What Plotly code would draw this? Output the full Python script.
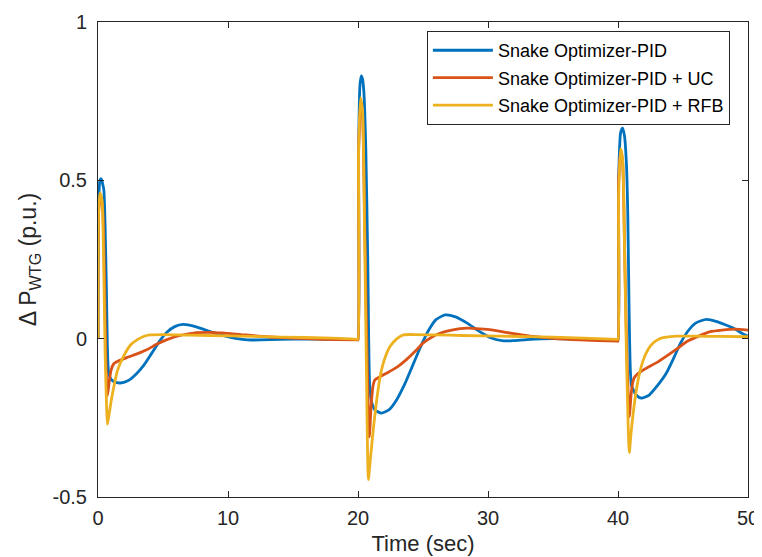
import plotly.graph_objects as go

# ---- data ----
t_pid = [0, 0.05, 0.15, 0.25, 0.35, 0.45, 0.55, 0.65, 0.72, 0.8, 0.95, 1.2, 1.7, 2.3, 2.9, 3.5, 4.1, 4.7, 5.3, 5.9, 6.55, 7.5, 8.8, 9.8, 10.7, 11.5, 12.5, 14, 16, 18, 19.95,
         20.0, 20.05, 20.15, 20.25, 20.35, 20.45, 20.6, 20.75, 20.9, 21.05, 21.3, 21.8, 22.4, 23.0, 23.6, 24.2, 24.8, 25.4, 26.0, 26.7, 27.5, 28.4, 29.3, 30.2, 31.2, 32.0, 33.0, 35, 37, 39.95,
         40.0, 40.05, 40.2, 40.35, 40.5, 40.65, 40.75, 40.85, 40.95, 41.05, 41.4, 41.8, 42.4, 43.0, 43.7, 44.3, 44.8, 45.4, 46.0, 46.8, 47.6, 48.3, 48.9, 49.5, 50]
y_pid = [0, 0.42, 0.5, 0.505, 0.49, 0.47, 0.35, 0.15, -0.02, -0.1, -0.125, -0.135, -0.14, -0.133, -0.113, -0.085, -0.048, -0.01, 0.02, 0.038, 0.045, 0.038, 0.02, 0.008, 0.0, -0.004, -0.004, -0.002, -0.001, -0.002, -0.003,
         -0.003, 0.6, 0.8, 0.83, 0.82, 0.78, 0.6, 0.25, -0.15, -0.2, -0.225, -0.235, -0.224, -0.191, -0.143, -0.085, -0.027, 0.024, 0.06, 0.075, 0.069, 0.049, 0.024, 0.003, -0.007, -0.006, -0.003, 0.0, -0.002, -0.005,
         -0.005, 0.5, 0.65, 0.665, 0.64, 0.55, 0.4, 0.1, -0.1, -0.15, -0.178, -0.188, -0.178, -0.15, -0.11, -0.06, -0.015, 0.025, 0.05, 0.061, 0.054, 0.043, 0.033, 0.018, 0.007]

t_uc = [0, 0.05, 0.2, 0.35, 0.5, 0.6, 0.72, 0.85, 1.0, 1.2, 1.6, 2.2, 3.0, 3.75, 4.5, 5.3, 6.3, 7.6, 8.6, 9.6, 11, 13, 15, 17, 19.95,
        20.0, 20.05, 20.2, 20.35, 20.5, 20.65, 20.87, 21.0, 21.15, 21.3, 21.7, 22.2, 23.0, 23.7, 24.4, 25.0, 25.6, 26.3, 27.3, 28.4, 29.4, 30.4, 31.5, 32.5, 33.5, 35, 37, 39.95,
        40.0, 40.05, 40.2, 40.35, 40.5, 40.65, 40.87, 41.0, 41.15, 41.3, 41.7, 42.2, 43.0, 43.7, 44.5, 45.3, 46.2, 47.1, 48.0, 49.0, 50]
y_uc = [0, 0.4, 0.45, 0.42, 0.2, -0.05, -0.18, -0.14, -0.1, -0.08, -0.07, -0.06, -0.048, -0.035, -0.018, -0.003, 0.01, 0.019, 0.02, 0.018, 0.013, 0.006, 0.002, -0.002, -0.004,
        -0.004, 0.6, 0.74, 0.7, 0.4, 0.05, -0.31, -0.22, -0.15, -0.13, -0.12, -0.109, -0.09, -0.067, -0.04, -0.014, 0.003, 0.017, 0.028, 0.033, 0.031, 0.027, 0.019, 0.013, 0.007, 0.001, -0.004, -0.008,
        -0.008, 0.5, 0.59, 0.56, 0.3, 0.0, -0.246, -0.18, -0.135, -0.12, -0.105, -0.093, -0.075, -0.056, -0.033, -0.009, 0.008, 0.022, 0.027, 0.03, 0.027]

t_rfb = [0, 0.05, 0.15, 0.3, 0.45, 0.55, 0.65, 0.72, 0.85, 1.0, 1.18, 1.5, 1.95, 2.5, 3.0, 3.5, 4.0, 5, 7, 10, 14, 18, 19.95,
         20.0, 20.05, 20.2, 20.35, 20.5, 20.65, 20.8, 20.95, 21.2, 21.45, 21.7, 22.0, 22.46, 23.0, 23.5, 24.5, 26, 28, 31, 35, 39.95,
         40.0, 40.05, 40.2, 40.35, 40.5, 40.65, 40.87, 41.0, 41.3, 41.6, 41.95, 42.3, 42.7, 43.2, 43.7, 44.5, 46, 48, 50]
y_rfb = [0, 0.4, 0.46, 0.44, 0.2, -0.05, -0.2, -0.27, -0.24, -0.2, -0.16, -0.1, -0.057, -0.02, -0.004, 0.007, 0.012, 0.013, 0.011, 0.009, 0.005, 0.002, -0.002,
         -0.002, 0.6, 0.76, 0.72, 0.35, -0.1, -0.445, -0.38, -0.277, -0.19, -0.12, -0.07, -0.025, 0.0, 0.012, 0.013, 0.012, 0.01, 0.008, 0.005, -0.002,
         -0.002, 0.45, 0.6, 0.57, 0.3, -0.05, -0.36, -0.3, -0.193, -0.12, -0.067, -0.035, -0.014, 0.0, 0.005, 0.008, 0.008, 0.007, 0.006]

names = ["Snake Optimizer-PID", "Snake Optimizer-PID + UC", "Snake Optimizer-PID + RFB"]
colors = ["#0072BD", "#D95319", "#EDB120"]
x_ticks = [0, 10, 20, 30, 40, 50]
y_ticks = [-0.5, 0, 0.5, 1]
y_tick_text = ["-0.5", "0", "0.5", "1"]

FONT = "Liberation Sans, Arial, sans-serif"
AXC = "#262626"

fig = go.Figure()
for i, (tt, yy, nm, c) in enumerate(zip([t_pid, t_uc, t_rfb], [y_pid, y_uc, y_rfb], names, colors)):
    fig.add_trace(go.Scatter(x=tt, y=yy, mode="lines", name=nm, legendgroup=f"g{i}",
                             line=dict(color=c, width=2.8, shape="spline", smoothing=0.6)))

axis_common = dict(showgrid=False, zeroline=False, showline=True, linecolor=AXC,
                   linewidth=1, mirror="ticks", ticks="inside", ticklen=6, automargin=False,
                   tickcolor=AXC, tickfont=dict(family=FONT, size=20, color=AXC))

fig.update_xaxes(range=[0, 50], tickvals=x_ticks, ticklabelstandoff=3,
                 title=dict(text="Time (sec)", font=dict(family=FONT, size=22, color=AXC), standoff=7),
                 **axis_common)
fig.update_yaxes(range=[-0.5, 1], tickvals=y_ticks, ticktext=y_tick_text, ticklabelstandoff=6,
                 title=dict(text="Δ P<sub>WTG</sub> (p.u.)",
                            font=dict(family=FONT, size=23, color=AXC), standoff=9),
                 **axis_common)

fig.update_layout(
    width=754, height=549,
    margin=dict(l=90, r=14, t=14, b=60),
    paper_bgcolor="white", plot_bgcolor="white",
    showlegend=True,
    legend=dict(x=0.506, y=0.981, xanchor="left", yanchor="top",
                bgcolor="white", bordercolor=AXC, borderwidth=1,
                font=dict(family=FONT, size=18, color="black"),
                itemwidth=60, tracegroupgap=1),
)

fig.write_html("out.html")
